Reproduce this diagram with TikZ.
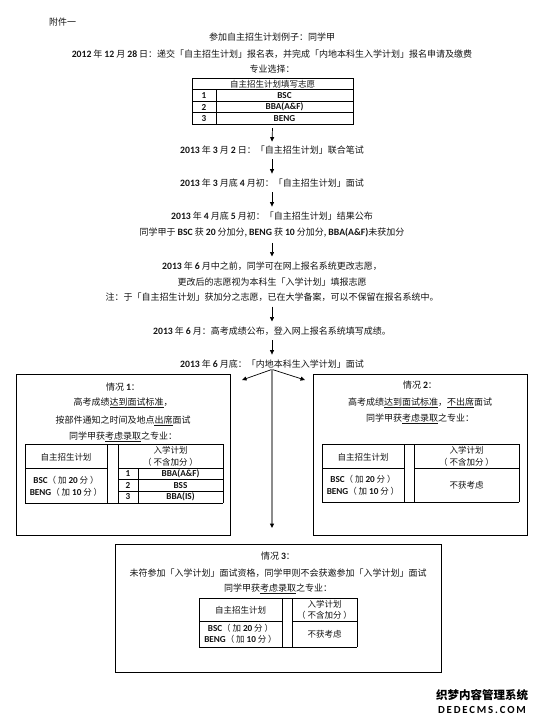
\documentclass[tikz,border=0pt]{standalone}
\usepackage{fontspec}
\setmainfont{Noto Sans CJK SC}
\newfontfamily\latf{Carlito}[Scale=1.08]
\usetikzlibrary{arrows.meta}
\newcommand\B[1]{{\latf\bfseries #1}}
\definecolor{txtc}{RGB}{20,20,20}
\begin{document}
\begin{tikzpicture}[x=1pt,y=-1pt,
  t/.style={inner sep=0pt, text=txtc, font=\fontsize{9}{11}\selectfont},
  ts/.style={inner sep=0pt, text=txtc, font=\fontsize{8.5}{10}\selectfont},
  arr/.style={-{Triangle[length=4.5pt,width=4pt]}, line width=0.7pt},
  frame/.style={draw, line width=0.9pt, inner sep=0pt},
  tl/.style={line width=0.8pt},
  hole/.style={inner sep=0pt, minimum width=0pt, minimum height=0pt}]
\useasboundingbox[fill=white] (0,0) rectangle (544,723);

% header texts
\node[t, anchor=west] (fj) at (49,22) {附件一};
\node[t] (title) at (272,37) {参加自主招生计划例子：同学甲};
\node[t] (l2012) at (272,54) {\B{2012} 年 \B{12} 月 \B{28} 日：递交「自主招生计划」报名表，并完成「内地本科生入学计划」报名申请及缴费};
\node[t] (zy) at (272,69) {专业选择：};

% top table
\node[hole, minimum width=161pt, minimum height=46pt] (tab0) at (272.5,101) {};
\draw[tl] (192,78) rectangle (353,124);
\draw[tl] (192,89.5) -- (353,89.5) (192,101) -- (353,101) (192,112.5) -- (353,112.5) (216,89.5) -- (216,124);
\node[ts] (tabh) at (272.5,84) {自主招生计划填写志愿};
\node[ts] (n1) at (204,95.5) {\B{1}};
\node[ts] (n2) at (204,107) {\B{2}};
\node[ts] (n3) at (204,118.5) {\B{3}};
\node[ts] (m1) at (284.5,95.5) {\B{BSC}};
\node[ts] (m2) at (284.5,107) {\B{BBA(A\&F)}};
\node[ts] (m3) at (284.5,118.5) {\B{BENG}};

% flow
\node[t] (s1) at (272,150) {\B{2013} 年 \B{3} 月 \B{2} 日：「自主招生计划」联合笔试};
\node[t] (s2) at (272,183) {\B{2013} 年 \B{3} 月底 \B{4} 月初：「自主招生计划」面试};
\node[t] (s3) at (272,216) {\B{2013} 年 \B{4} 月底 \B{5} 月初：「自主招生计划」结果公布};
\node[t] (s3b) at (272,233) {同学甲于 \B{BSC} 获 \B{20} 分加分, \B{BENG} 获 \B{10} 分加分, \B{BBA(A\&F)}未获加分};
\node[t] (s4) at (272,266) {\B{2013} 年 \B{6} 月中之前，同学可在网上报名系统更改志愿，};
\node[t] (s4b) at (272,282) {更改后的志愿视为本科生「入学计划」填报志愿};
\node[t] (s4c) at (272,297) {注：于「自主招生计划」获加分之志愿，已在大学备案，可以不保留在报名系统中。};
\node[t] (s5) at (272,331) {\B{2013} 年 \B{6} 月：高考成绩公布，登入网上报名系统填写成绩。};
\node[t] (s6) at (272,364) {\B{2013} 年 \B{6} 月底：「内地本科生入学计划」面试};

\draw[arr] ([yshift=-4pt]tab0.south) -- ([yshift=4pt]s1.north);
\draw[arr] ([yshift=-5pt]s1.south) -- ([yshift=5pt]s2.north);
\draw[arr] ([yshift=-5pt]s2.south) -- ([yshift=5pt]s3.north);
\draw[arr] ([yshift=-5pt]s3b.south) -- ([yshift=5pt]s4.north);
\draw[arr] ([yshift=-5pt]s4c.south) -- ([yshift=5pt]s5.north);
\draw[arr] ([yshift=-5pt]s5.south) -- ([yshift=5pt]s6.north);

% boxes
\node[frame, minimum width=214pt, minimum height=161pt] (box1) at (123,454.5) {};
\node[frame, minimum width=214pt, minimum height=161pt] (box2) at (420,454.5) {};
\node[frame, minimum width=326pt, minimum height=128pt] (box3) at (278,608) {};

\coordinate (la) at (242,380);
\coordinate (ra) at (305,380);
\coordinate (gend) at (272,528);
\draw[arr] ([yshift=-1pt]s6.south) -- (la);
\draw[arr] ([yshift=-1pt]s6.south) -- (ra);
\draw[line width=1.1pt, draw=black!45, -{Triangle[length=4.5pt,width=4pt,color=black,fill=black]}] ([yshift=-1pt]s6.south) -- (gend);

% box 1
\node[t] (b1a) at (123,387) {情况 \B{1}：};
\node[t] (b1b) at (123,403) {高考成绩\underline{达到面试标准}，};
\node[t] (b1c) at (123,421) {按部件通知之时间及地点\underline{出席}面试};
\node[t] (b1d) at (123,437) {同学甲获\underline{考虑录取}之专业：};
\draw[tl] (25,444) -- (223,444) (25,503) -- (223,503)
  (25,444) -- (25,503) (107,444) -- (107,503) (118,444) -- (118,503) (223,444) -- (223,503)
  (25,468) -- (107,468) (118,468) -- (223,468)
  (118,479.5) -- (223,479.5) (118,491) -- (223,491) (138,468) -- (138,503);
\node[ts] (b1t1) at (66,457) {自主招生计划};
\node[ts] (b1t2) at (170.5,450) {入学计划};
\node[ts] (b1t3) at (170.5,462) {（ 不含加分 ）};
\node[ts] (b1t4) at (66,480) {\B{BSC}（ 加 \B{20} 分 ）};
\node[ts] (b1t5) at (66,492) {\B{BENG}（ 加 \B{10} 分 ）};
\node[ts] (b1n1) at (128,474) {\B{1}};
\node[ts] (b1n2) at (128,485.5) {\B{2}};
\node[ts] (b1n3) at (128,497) {\B{3}};
\node[ts] (b1m1) at (180.5,474) {\B{BBA(A\&F)}};
\node[ts] (b1m2) at (180.5,485.5) {\B{BSS}};
\node[ts] (b1m3) at (180.5,497) {\B{BBA(IS)}};

% box 2
\node[t] (b2a) at (420,385) {情况 \B{2}：};
\node[t] (b2b) at (420,403) {高考成绩\underline{达到面试标准}，\underline{不出席}面试};
\node[t] (b2c) at (420,419) {同学甲获\underline{考虑录取}之专业：};
\draw[tl] (322,444) -- (519,444) (322,502) -- (519,502)
  (322,444) -- (322,502) (404,444) -- (404,502) (414,444) -- (414,502) (519,444) -- (519,502)
  (322,468) -- (404,468) (414,468) -- (519,468);
\node[ts] (b2t1) at (363,457) {自主招生计划};
\node[ts] (b2t2) at (466.5,450) {入学计划};
\node[ts] (b2t3) at (466.5,462) {（ 不含加分 ）};
\node[ts] (b2t4) at (363,479) {\B{BSC}（ 加 \B{20} 分 ）};
\node[ts] (b2t5) at (363,491) {\B{BENG}（ 加 \B{10} 分 ）};
\node[ts] (b2t6) at (466.5,485) {不获考虑};

% box 3
\node[t] (b3a) at (278,556) {情况 \B{3}：};
\node[t] (b3b) at (278,573) {未符参加「入学计划」面试资格，同学甲则不会获邀参加「入学计划」面试};
\node[t] (b3c) at (278,589) {同学甲获\underline{考虑录取}之专业：};
\draw[tl] (199,598) -- (357,598) (199,647) -- (357,647)
  (199,598) -- (199,647) (282,598) -- (282,647) (292,598) -- (292,647) (357,598) -- (357,647)
  (199,621) -- (282,621) (292,621) -- (357,621);
\node[ts] (b3t1) at (240.5,610) {自主招生计划};
\node[ts] (b3t2) at (324.5,604) {入学计划};
\node[ts] (b3t3) at (324.5,615) {（ 不含加分 ）};
\node[ts] (b3t4) at (240.5,628) {\B{BSC}（ 加 \B{20} 分 ）};
\node[ts] (b3t5) at (240.5,639) {\B{BENG}（ 加 \B{10} 分 ）};
\node[ts] (b3t6) at (324.5,634) {不获考虑};

% watermark
\node[inner sep=0pt, font=\fontsize{11.5}{12}\selectfont\bfseries] (wm1) at (482,695) {织梦内容管理系统};
\node[inner sep=0pt, font=\fontsize{10}{11}\latf\bfseries] (wm2) at (482,710) {D\,E\,D\,E\,C\,M\,S\,.\,C\,O\,M};
\end{tikzpicture}
\end{document}
